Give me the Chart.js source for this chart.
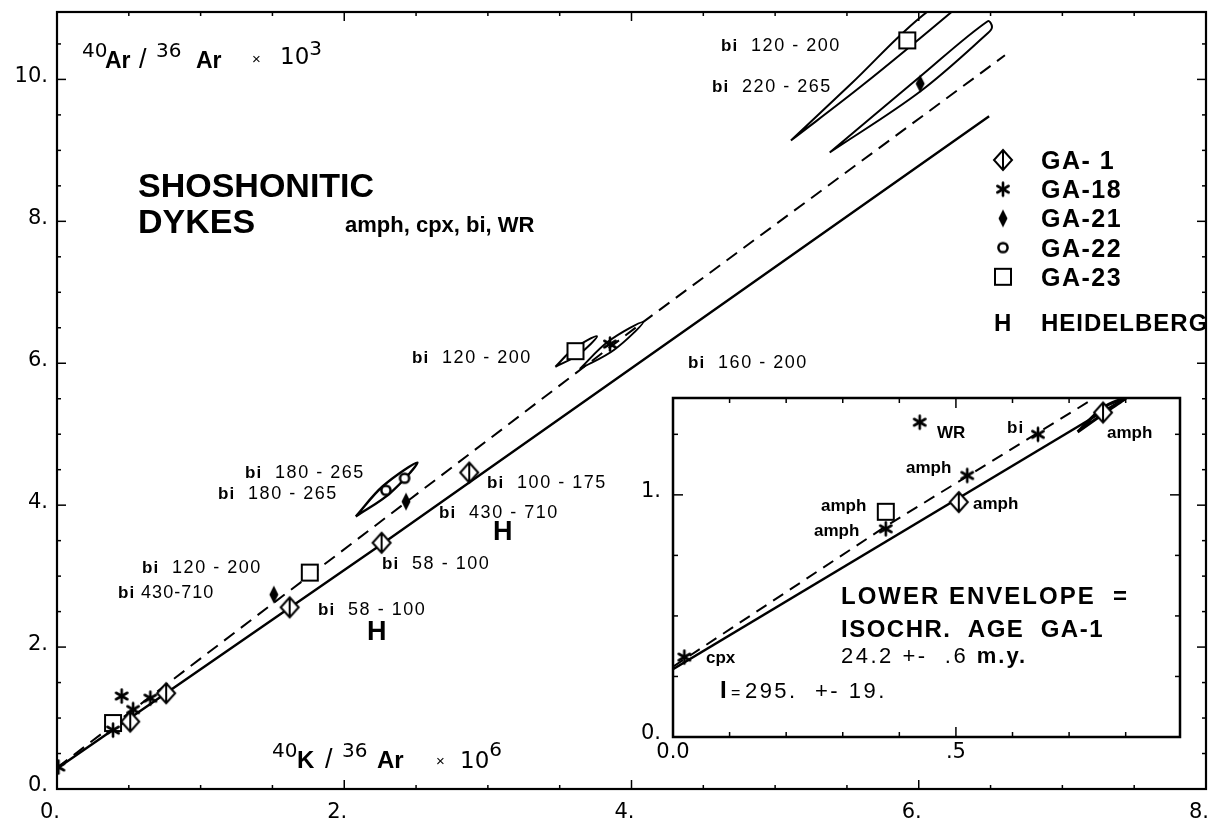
<!DOCTYPE html>
<html>
<head>
<meta charset="utf-8">
<script src="https://cdn.jsdelivr.net/npm/chart.js@4.4.1/dist/chart.umd.min.js"></script>
<style>
  html, body { margin: 0; padding: 0; background: #fff; }
  #wrap { position: relative; width: 1216px; height: 825px; }
  #main { position: absolute; left: 0; top: 0; }
  #inset { position: absolute; left: 620px; top: 380px; }
</style>
</head>
<body>
<div id="wrap">
  <canvas id="main" width="1216" height="825"></canvas>
  <canvas id="inset" width="580" height="400"></canvas>
</div>
<script>
const FONT = '"Liberation Sans", Arial, Helvetica, sans-serif';
const TICKFONT = '"DejaVu Sans", "Liberation Sans", sans-serif';

// series names (legend)
const seriesNames = ['GA- 1', 'GA-18', 'GA-21', 'GA-22', 'GA-23'];

// main plot: x = 40K/36Ar x 10^6, y = 40Ar/36Ar x 10^3
const ga1Main = [[0.51, 0.95], [0.76, 1.35], [1.62, 2.56], [2.26, 3.47], [2.87, 4.46]];
const ga18Main = [[0.01, 0.31], [0.39, 0.83], [0.45, 1.31], [0.53, 1.12], [0.65, 1.28], [3.85, 6.27]];
const ga21Main = [[1.51, 2.74], [2.43, 4.05], [6.01, 9.94]];
const ga22Main = [[2.29, 4.21], [2.42, 4.38]];
const ga23Main = [[0.39, 0.93], [1.76, 3.05], [3.61, 6.17], [5.92, 10.55]];

// isochron lines
const lowerEnvelope = [[0, 0.29], [2.26, 3.45], [6.49, 9.48]];
const upperLine = [[0, 0.30], [1.52, 2.64], [4.08, 6.58], [6.60, 10.34]];

// error ellipses (outline points)
const ellGA23Top = [[5.11, 9.14], [5.61, 9.92], [6.24, 10.97], [6.45, 11.35], [6.07, 10.97], [5.52, 9.92], [5.11, 9.14]];
const ellGA21Top = [[5.38, 8.97], [6.01, 9.83], [6.48, 10.65], [6.51, 10.74], [6.48, 10.82], [6.01, 10.04], [5.38, 8.97]];
const ellGA23Mid = [[3.47, 5.95], [3.63, 6.12], [3.76, 6.38], [3.60, 6.21], [3.47, 5.95]];
const ellGA18Mid = [[3.64, 5.92], [3.88, 6.19], [4.08, 6.58], [3.84, 6.31], [3.64, 5.92]];
const ellGA22 = [[2.08, 3.84], [2.32, 4.17], [2.51, 4.60], [2.27, 4.27], [2.08, 3.84]];

// inset (same units, enlarged near origin)
const ga1Inset = [[0.505, 0.97], [0.76, 1.34]];
const ga18Inset = [[0.02, 0.33], [0.376, 0.86], [0.52, 1.08], [0.436, 1.30], [0.645, 1.25]];
const ga23Inset = [[0.376, 0.93]];
const lowerInset = [[0, 0.28], [0.80, 1.40]];
const upperInset = [[0, 0.29], [0.376, 0.87], [0.745, 1.40]];
const ellInset = [[0.715, 1.26], [0.77, 1.35], [0.80, 1.40], [0.76, 1.36], [0.715, 1.26]];

// tick labels
const mainXTicks = [0, 2, 4, 6, 8];
const mainXText = ['0.', '2.', '4.', '6.', '8.'];
const mainYTicks = [0, 2, 4, 6, 8, 10];
const mainYText = ['0.', '2.', '4.', '6.', '8.', '10.'];
const insetXTicks = [0, 0.5];
const insetXText = ['0.0', '.5'];
const insetYTicks = [0, 1];
const insetYText = ['0.', '1.'];

const labeler = (vals, txt) => v => {
  const i = vals.findIndex(t => Math.abs(t - v) < 1e-6);
  return i < 0 ? '' : txt[i];
};

// marker glyphs
function marker(kind) {
  const c = document.createElement('canvas');
  c.width = 26; c.height = 26;
  const g = c.getContext('2d');
  g.strokeStyle = '#000'; g.fillStyle = '#fff'; g.lineWidth = 2;
  if (kind === 'ga1') {
    g.beginPath(); g.moveTo(13, 3); g.lineTo(22, 13); g.lineTo(13, 23); g.lineTo(4, 13); g.closePath();
    g.fill(); g.stroke();
    g.beginPath(); g.moveTo(13, 3); g.lineTo(13, 23); g.stroke();
  } else if (kind === 'ga18') {
    g.lineWidth = 2.6; g.lineCap = 'round';
    [90, 30, 150].forEach(a => {
      const r = a * Math.PI / 180, dx = 6.5 * Math.cos(r), dy = 6.5 * Math.sin(r);
      g.beginPath(); g.moveTo(13 - dx, 13 - dy); g.lineTo(13 + dx, 13 + dy); g.stroke();
    });
  } else if (kind === 'ga21') {
    g.fillStyle = '#000';
    g.beginPath(); g.moveTo(13, 4); g.lineTo(17.5, 13); g.lineTo(13, 22); g.lineTo(8.5, 13); g.closePath(); g.fill();
  } else if (kind === 'ga22') {
    g.lineWidth = 2.5;
    g.beginPath(); g.arc(13, 13, 4.6, 0, Math.PI * 2); g.fill(); g.stroke();
  } else if (kind === 'ga23') {
    g.fillRect(5, 5, 16, 16); g.strokeRect(5, 5, 16, 16);
  }
  return c;
}
const glyphs = ['ga1', 'ga18', 'ga21', 'ga22', 'ga23'].map(marker);

const toXY = a => a.map(([x, y]) => ({ x, y }));
const markerSet = (i, pts) => ({
  label: seriesNames[i], data: toXY(pts), pointStyle: glyphs[i],
  pointRadius: 9, showLine: false, order: 0
});
const lineSet = (pts, w, dash) => ({
  data: toXY(pts), showLine: true, pointRadius: 0, borderColor: '#000',
  borderWidth: w, borderDash: dash || [], tension: 0, order: 6
});
const loopSet = (pts, w) => ({
  data: toXY(pts), showLine: true, pointRadius: 0, borderColor: '#000',
  borderWidth: w, tension: 0.35, order: 5
});

// frame + inward ticks on all four sides
const framePlugin = {
  id: 'frame',
  afterDraw(chart, args, o) {
    const { ctx, chartArea: a, scales: { x, y } } = chart;
    const seg = (x1, y1, x2, y2) => { ctx.beginPath(); ctx.moveTo(x1, y1); ctx.lineTo(x2, y2); ctx.stroke(); };
    ctx.save();
    ctx.strokeStyle = '#000';
    ctx.lineWidth = o.lw;
    ctx.strokeRect(a.left, a.top, a.right - a.left, a.bottom - a.top);
    ctx.lineWidth = 1.5;
    x.ticks.forEach(t => {
      const p = x.getPixelForValue(t.value), L = t.label ? o.major : o.minor;
      seg(p, a.bottom, p, a.bottom - L); seg(p, a.top, p, a.top + L);
    });
    y.ticks.forEach(t => {
      const p = y.getPixelForValue(t.value), L = t.label ? o.major : o.minor;
      seg(a.left, p, a.left + L, p); seg(a.right, p, a.right - L, p);
    });
    ctx.restore();
  }
};

// free text and legend
function drawParts(ctx, item, ox, oy) {
  let x = item.x - ox;
  item.parts.forEach(p => {
    if (p.x != null) x = p.x - ox;
    ctx.font = (p.b ? 'bold ' : '') + p.s + 'px ' + (p.f || FONT);
    ctx.letterSpacing = (p.ls || 0) + 'px';
    ctx.fillText(p.t, x, item.y - oy - (p.up || 0));
    x += ctx.measureText(p.t).width;
  });
}
const notesPlugin = {
  id: 'notes',
  afterDatasetsDraw(chart, args, o) {
    const ctx = chart.ctx;
    const [ox, oy] = o.offset || [0, 0];
    ctx.save();
    ctx.fillStyle = '#000';
    ctx.textBaseline = 'alphabetic';
    ctx.textAlign = 'left';
    (o.items || []).forEach(it => drawParts(ctx, it, ox, oy));
    if (o.legend) {
      const L = o.legend;
      chart.data.datasets.filter(d => d.label).forEach((d, i) => {
        const cy = L.y0 + i * L.gap;
        ctx.drawImage(d.pointStyle, L.sx - 13, cy - 13);
        drawParts(ctx, { x: L.tx, y: cy + 9, parts: [{ t: d.label, s: 25, b: true, ls: 1.5 }] }, 0, 0);
      });
    }
    ctx.restore();
  }
};

const bi = (x, y, nums) => ({ x, y, parts: [{ t: 'bi', s: 17, b: true, ls: 1 }, { t: '  ' + nums, s: 18, ls: 1.5 }] });

const mainNotes = [
  { x: 82, y: 68, parts: [
    { t: '40', s: 20, up: 11, f: TICKFONT },
    { t: 'Ar', s: 23, b: true, x: 105 },
    { t: '/', s: 27, x: 139 },
    { t: '36', s: 20, up: 11, x: 156, f: TICKFONT },
    { t: 'Ar', s: 23, b: true, x: 196 },
    { t: '×', s: 15, x: 252, up: 4 },
    { t: '10', s: 23, x: 280, up: 4, f: TICKFONT },
    { t: '3', s: 20, up: 13, f: TICKFONT }
  ] },
  { x: 272, y: 768, parts: [
    { t: '40', s: 20, up: 11, f: TICKFONT },
    { t: 'K', s: 24, b: true, x: 297 },
    { t: '/', s: 27, x: 325 },
    { t: '36', s: 20, up: 11, x: 342, f: TICKFONT },
    { t: 'Ar', s: 24, b: true, x: 377 },
    { t: '×', s: 15, x: 436, up: 2 },
    { t: '10', s: 23, x: 460, f: TICKFONT },
    { t: '6', s: 20, up: 12, f: TICKFONT }
  ] },
  { x: 138, y: 197, parts: [{ t: 'SHOSHONITIC', s: 34, b: true }] },
  { x: 138, y: 233, parts: [{ t: 'DYKES', s: 34, b: true }] },
  { x: 345, y: 232, parts: [{ t: 'amph, cpx, bi, WR', s: 22, b: true }] },
  bi(721, 51, '120 - 200'),
  bi(712, 92, '220 - 265'),
  bi(412, 363, '120 - 200'),
  bi(688, 368, '160 - 200'),
  bi(245, 478, '180 - 265'),
  bi(218, 499, '180 - 265'),
  bi(487, 488, '100 - 175'),
  bi(439, 518, '430 - 710'),
  bi(382, 569, '58 - 100'),
  bi(318, 615, '58 - 100'),
  bi(142, 573, '120 - 200'),
  { x: 118, y: 598, parts: [{ t: 'bi', s: 17, b: true, ls: 1 }, { t: ' 430-710', s: 18, ls: 1 }] },
  { x: 493, y: 540, parts: [{ t: 'H', s: 27, b: true }] },
  { x: 367, y: 640, parts: [{ t: 'H', s: 27, b: true }] },
  { x: 994, y: 331, parts: [{ t: 'H', s: 24, b: true }] },
  { x: 1041, y: 331, parts: [{ t: 'HEIDELBERG', s: 24, b: true, ls: 1 }] }
];

const insetNotes = [
  { x: 706, y: 663, parts: [{ t: 'cpx', s: 17, b: true }] },
  { x: 937, y: 438, parts: [{ t: 'WR', s: 17, b: true }] },
  { x: 1007, y: 433, parts: [{ t: 'bi', s: 17, b: true, ls: 1 }] },
  { x: 1107, y: 438, parts: [{ t: 'amph', s: 17, b: true }] },
  { x: 906, y: 473, parts: [{ t: 'amph', s: 17, b: true }] },
  { x: 973, y: 509, parts: [{ t: 'amph', s: 17, b: true }] },
  { x: 821, y: 511, parts: [{ t: 'amph', s: 17, b: true }] },
  { x: 814, y: 536, parts: [{ t: 'amph', s: 17, b: true }] },
  { x: 841, y: 604, parts: [{ t: 'LOWER ENVELOPE  =', s: 24, b: true, ls: 2 }] },
  { x: 841, y: 637, parts: [{ t: 'ISOCHR.  AGE  GA-1', s: 24, b: true, ls: 1.5 }] },
  { x: 841, y: 663, parts: [{ t: '24.2 +-  .6 ', s: 22, ls: 2.5 }, { t: 'm.y.', s: 22, b: true, ls: 2 }] },
  { x: 720, y: 698, parts: [{ t: 'I', s: 24, b: true }, { t: ' = ', s: 16 }, { t: '295.  +- 19.', s: 22, ls: 2.5 }] }
];

const tickFont = { family: TICKFONT, size: 21 };

new Chart(document.getElementById('main'), {
  type: 'scatter',
  data: {
    datasets: [
      markerSet(0, ga1Main), markerSet(1, ga18Main), markerSet(2, ga21Main),
      markerSet(3, ga22Main), markerSet(4, ga23Main),
      loopSet(ellGA23Top, 2), loopSet(ellGA21Top, 2), loopSet(ellGA23Mid, 2),
      loopSet(ellGA18Mid, 2), loopSet(ellGA22, 2.4),
      lineSet(lowerEnvelope, 2.4), lineSet(upperLine, 2, [13, 8])
    ]
  },
  options: {
    responsive: false,
    animation: false,
    layout: { padding: { top: 12, right: 4, left: 0, bottom: 0 } },
    plugins: {
      legend: { display: false },
      tooltip: { enabled: false },
      frame: { lw: 2.2, major: 9, minor: 4 },
      notes: { items: mainNotes, legend: { sx: 1003, tx: 1041, y0: 160, gap: 29.2 } }
    },
    scales: {
      x: {
        type: 'linear', min: 0, max: 8,
        grid: { display: false, drawTicks: false }, border: { display: false },
        ticks: { stepSize: 0.5, includeBounds: false, autoSkip: false, maxRotation: 0,
          padding: 11, labelOffset: -7, color: '#000', font: tickFont,
          callback: labeler(mainXTicks, mainXText) },
        afterFit: s => { s.height = 36; s.paddingLeft = 0; s.paddingRight = 0; }
      },
      y: {
        type: 'linear', min: 0, max: 10.95,
        grid: { display: false, drawTicks: false }, border: { display: false },
        ticks: { stepSize: 0.5, includeBounds: false, autoSkip: false,
          padding: 9, labelOffset: -3, color: '#000', font: tickFont,
          callback: labeler(mainYTicks, mainYText) },
        afterFit: s => { s.width = 57; s.paddingTop = 0; s.paddingBottom = 0; }
      }
    }
  },
  plugins: [framePlugin, notesPlugin]
});

new Chart(document.getElementById('inset'), {
  type: 'scatter',
  data: {
    datasets: [
      markerSet(0, ga1Inset), markerSet(1, ga18Inset), markerSet(4, ga23Inset),
      loopSet(ellInset, 3),
      lineSet(lowerInset, 2.4), lineSet(upperInset, 2, [12, 8])
    ]
  },
  options: {
    responsive: false,
    animation: false,
    layout: { padding: { top: 18, right: 20, left: 0, bottom: 0 } },
    plugins: {
      legend: { display: false },
      tooltip: { enabled: false },
      frame: { lw: 2.5, major: 10, minor: 5 },
      notes: { items: insetNotes, offset: [620, 380] }
    },
    scales: {
      x: {
        type: 'linear', min: 0, max: 0.896,
        grid: { display: false, drawTicks: false }, border: { display: false },
        ticks: { stepSize: 0.1, includeBounds: false, autoSkip: false, maxRotation: 0,
          padding: 3, color: '#000', font: tickFont,
          callback: labeler(insetXTicks, insetXText) },
        afterFit: s => { s.height = 43; s.paddingLeft = 0; s.paddingRight = 0; }
      },
      y: {
        type: 'linear', min: 0, max: 1.40,
        grid: { display: false, drawTicks: false }, border: { display: false },
        ticks: { stepSize: 0.25, includeBounds: false, autoSkip: false,
          padding: 12, labelOffset: -3, color: '#000', font: tickFont,
          callback: labeler(insetYTicks, insetYText) },
        afterFit: s => { s.width = 53; s.paddingTop = 0; s.paddingBottom = 0; }
      }
    }
  },
  plugins: [framePlugin, notesPlugin]
});
</script>
</body>
</html>
